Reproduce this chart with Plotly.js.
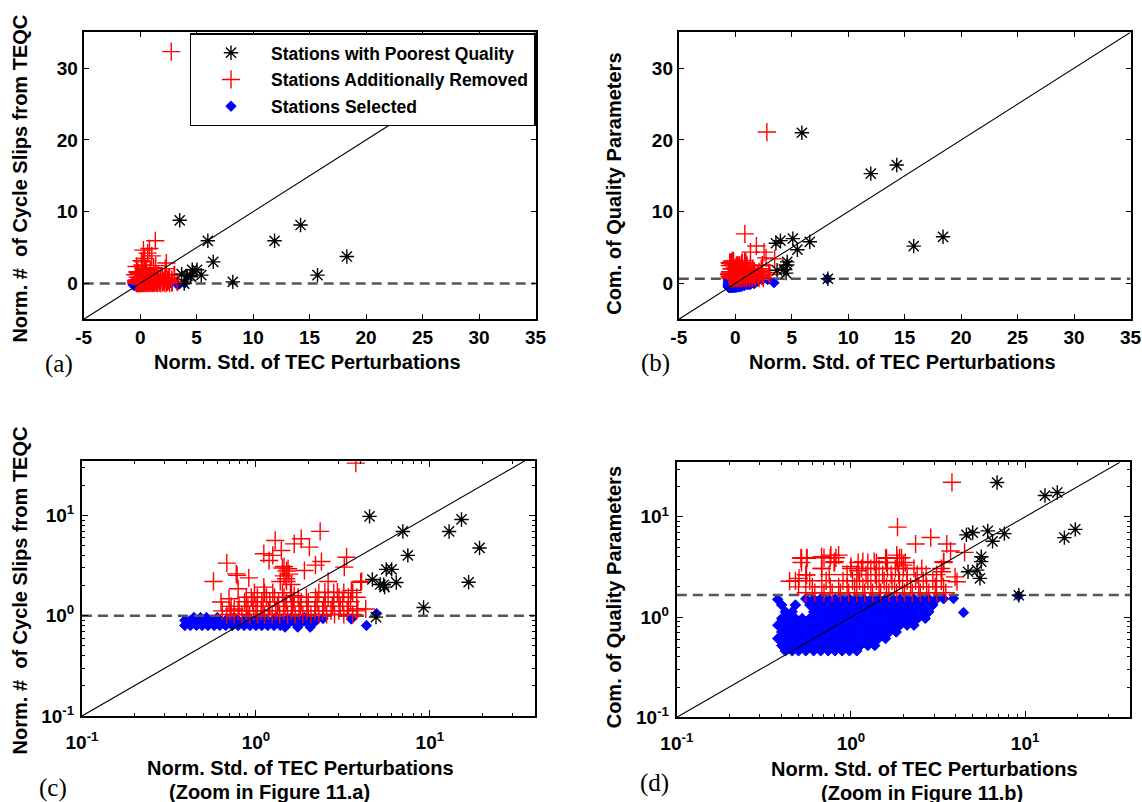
<!DOCTYPE html>
<html><head><meta charset="utf-8">
<script src="https://cdn.plot.ly/plotly-3.0.1.min.js"></script>
<style>html,body{margin:0;padding:0;background:#fff;} #chart{width:1142px;height:802px;}</style>
</head><body><div id="chart"></div>
<script>
// ================= DATA =================
// Values as read on the log-scale zoom panels (c),(d).
// Panels (a),(b) show the same stations with the +1 offset removed (value - SHIFT).
const SHIFT = 1;

const legendNames = ['Stations with Poorest Quality', 'Stations Additionally Removed', 'Stations Selected'];
const xTitleText = 'Norm. Std. of TEC Perturbations';
const yTitleCS = 'Norm. #\u00a0\u00a0of Cycle Slips from TEQC';
const yTitleCQ = 'Com. of Quality Parameters';
const zoomNoteA = '(Zoom in Figure 11.a)';
const zoomNoteB = '(Zoom in Figure 11.b)';
const panelLabels = ['(a)', '(b)', '(c)', '(d)'];

const linTickVals = [-5, 0, 5, 10, 15, 20, 25, 30, 35];
const linTickText = ['<b>-5</b>', '<b>0</b>', '<b>5</b>', '<b>10</b>', '<b>15</b>', '<b>20</b>', '<b>25</b>', '<b>30</b>', '<b>35</b>'];
const linYTickVals = [0, 10, 20, 30];
const linYTickText = ['<b>0</b>', '<b>10</b>', '<b>20</b>', '<b>30</b>'];
const logTickVals = [0.1, 1, 10];
const logTickText = ['<b>10<sup>-1</sup></b>', '<b>10<sup>0</sup></b>', '<b>10<sup>1</sup></b>'];
const logMinorTicks = [0.2, 0.3, 0.4, 0.5, 0.6, 0.7, 0.8, 0.9, 2, 3, 4, 5, 6, 7, 8, 9, 20, 30, 40];

const identityLin = [-5, 35];
const identityLog = [0.1, 35];
const spanLin = [-5, 35];
const spanLog = [0.1, 40];
const csThreshold = 1.0;    // dashed line, panels (a)/(c)
const cqThreshold = 1.66;   // dashed line, panels (b)/(d)

// ---- Cycle slips (panels a, c) ----
const csPoorX = [4.5, 6.99, 7.47, 9.2, 12.9, 15.2, 16.7, 19.3, 4.67, 5.43, 5.49, 5.61, 6.03, 6.41, 4.9, 5.18];
const csPoorY = [9.8, 6.94, 4.0, 1.21, 6.94, 9.14, 2.16, 4.75, 2.3, 2.04, 1.93, 2.9, 2.9, 2.15, 0.97, 2.05];

const csRemovedScatterX = [3.75, 2.34, 1.29, 1.82, 1.66, 2.03, 1.40, 1.11, 1.19, 0.68, 3.32, 2.38, 1.90, 1.53, 0.77, 0.57, 0.91, 1.49, 0.79, 1.11, 3.22, 4.05, 0.70, 0.94, 1.66, 2.49, 2.94, 3.54, 3.85, 0.75, 0.63, 4.28, 4.0, 0.78, 1.45, 1.55, 1.38, 1.6, 2.2, 2.6, 1.25, 1.5, 1.45, 1.42, 1.5];
const csRemovedScatterY = [33.3, 6.95, 5.64, 5.87, 5.22, 4.84, 4.48, 4.16, 3.56, 3.35, 3.84, 3.48, 2.83, 2.94, 2.62, 2.20, 2.39, 2.34, 1.86, 1.93, 3.06, 2.21, 1.48, 1.53, 1.59, 1.72, 1.72, 1.79, 1.17, 1.17, 1.37, 1.17, 2.16, 2.53, 3.1, 2.6, 2.2, 2.05, 3.2, 2.2, 4.0, 2.8, 2.5, 3.0, 2.2];
const csRemovedRows = [
  [1.03, [0.68, 0.75, 0.83, 0.92, 1.02, 1.12, 1.24, 1.37, 1.52, 1.68, 1.86, 2.07, 2.3, 2.55, 2.83, 3.2, 3.6]],
  [1.12, [0.64, 0.71, 0.79, 0.88, 0.97, 1.07, 1.18, 1.3, 1.44, 1.6, 1.77, 1.96, 2.18, 2.42, 2.7, 3.0, 3.35, 3.8]],
  [1.24, [0.72, 0.8, 0.9, 1.0, 1.1, 1.2, 1.33, 1.47, 1.62, 1.8, 2.0, 2.2, 2.45, 2.75, 3.05, 3.4]],
  [1.38, [0.86, 0.96, 1.08, 1.2, 1.35, 1.5, 1.65, 1.82, 2.0, 2.25, 2.5, 2.8, 3.15, 3.5]],
  [1.53, [0.88, 1.02, 1.15, 1.28, 1.45, 1.6, 1.75, 1.95, 2.2, 2.6, 3.0, 3.4, 3.8]],
  [1.70, [0.98, 1.12, 1.25, 1.42, 1.58, 2.3, 2.8, 3.2, 3.6]]
];

const csSelectedScatterX = [2.43, 3.54, 4.32, 4.94];
const csSelectedScatterY = [0.94, 0.93, 0.80, 1.05];
const csSelectedRows = [
  [0.96, [0.44, 0.48, 0.52, 0.6, 0.75, 0.9, 1.1, 1.3, 1.6, 1.9]],
  [0.90, [0.39, 0.42, 0.455, 0.49, 0.53, 0.575, 0.62, 0.67, 0.73, 0.79, 0.855, 0.925, 1.0, 1.08, 1.17, 1.27, 1.38, 1.49, 1.61, 1.75, 1.9, 2.05, 2.22]],
  [0.85, [0.405, 0.44, 0.47, 0.51, 0.555, 0.6, 0.645, 0.7, 0.76, 0.82, 0.89, 0.96, 1.04, 1.125, 1.22, 1.32, 1.43, 1.55, 1.68, 1.82, 1.97, 2.14]],
  [0.80, [0.39, 0.42, 0.455, 0.49, 0.53, 0.575, 0.62, 0.67, 0.73, 0.79, 0.855, 0.925, 1.0, 1.08, 1.17, 1.27, 1.38]],
  [0.77, [1.47, 1.74, 2.05]]
];

// ---- Combined quality parameters (panels b, d) ----
const cqPoorX = [6.9, 13.0, 15.3, 16.8, 19.4, 9.2, 4.6, 5.0, 6.1, 6.5, 7.6, 4.7, 5.3, 5.6, 5.6, 5.5];
const cqPoorY = [22.0, 16.3, 17.5, 6.2, 7.5, 1.65, 6.6, 6.97, 7.25, 5.7, 6.8, 2.83, 2.94, 4.0, 3.57, 2.43];

const cqRemovedScatterX = [3.80, 1.85, 2.87, 2.35, 3.55, 3.73, 4.49, 0.516, 0.556, 0.678, 0.767, 0.849, 0.807, 0.444, 0.503, 0.556, 0.678, 1.17, 1.36, 1.58, 1.83, 3.41, 3.33, 3.96, 4.06, 1.95, 2.0, 1.0, 1.1];
const cqRemovedScatterY = [22.1, 7.9, 6.21, 5.36, 5.36, 4.56, 4.42, 3.85, 3.85, 4.0, 4.15, 4.15, 3.57, 2.28, 2.43, 2.62, 3.05, 3.57, 3.57, 3.85, 4.15, 3.57, 2.83, 2.52, 2.25, 3.9, 3.3, 3.2, 2.9];
const cqRemovedRows = [
  [1.75, [0.55, 0.62, 0.7, 0.78, 0.87, 0.97, 1.08, 1.2, 1.33, 1.48, 1.65, 1.83, 2.03, 2.25, 2.5, 2.8, 3.1, 3.5]],
  [2.0,  [0.5, 0.6, 0.68, 0.76, 0.85, 0.95, 1.05, 1.17, 1.3, 1.45, 1.6, 1.78, 1.98, 2.2, 2.45, 2.72, 3.05, 3.4]],
  [2.3,  [0.48, 0.58, 0.72, 0.9, 1.02, 1.12, 1.25, 1.4, 1.55, 1.72, 1.9, 2.1, 2.35, 2.6, 2.95, 3.3]],
  [2.65, [0.55, 0.75, 0.95, 1.08, 1.22, 1.38, 1.52, 1.7, 1.88, 2.1, 2.4, 2.7, 3.1]],
  [3.05, [0.68, 1.0, 1.15, 1.3, 1.45, 1.62, 1.8, 2.0, 2.3, 2.55, 3.3]],
  [3.5,  [0.52, 0.8, 1.1, 1.25, 1.4, 1.6, 1.85, 2.05, 3.4]],
  [3.9,  [0.52, 0.56, 0.7, 0.76, 0.82, 1.6, 1.83, 1.9]]
];

const cqSelectedScatterX = [3.88, 4.43, 9.15, 0.38];
const cqSelectedScatterY = [1.53, 1.11, 1.63, 1.50];
const cqSelectedRows = [
  [0.46, [0.42, 0.46, 0.5, 0.55, 0.61, 0.67, 0.74, 0.81, 0.89, 0.98, 1.08]],
  [0.52, [0.4, 0.44, 0.48, 0.525, 0.58, 0.64, 0.705, 0.775, 0.85, 0.935, 1.03, 1.13, 1.25, 1.37]],
  [0.61, [0.38, 0.42, 0.46, 0.5, 0.55, 0.61, 0.67, 0.74, 0.81, 0.89, 0.98, 1.08, 1.19, 1.31, 1.44, 1.58]],
  [0.71, [0.4, 0.44, 0.48, 0.525, 0.58, 0.64, 0.705, 0.775, 0.85, 0.935, 1.03, 1.13, 1.25, 1.37, 1.51, 1.66, 1.82]],
  [0.83, [0.38, 0.42, 0.46, 0.5, 0.55, 0.61, 0.67, 0.74, 0.81, 0.89, 0.98, 1.08, 1.19, 1.31, 1.44, 1.58, 1.74, 1.91, 2.1, 2.3]],
  [0.97, [0.4, 0.44, 0.48, 0.525, 0.58, 0.64, 0.705, 0.775, 0.85, 0.935, 1.03, 1.13, 1.25, 1.37, 1.51, 1.66, 1.82, 2.0, 2.2, 2.42, 2.67]],
  [1.13, [0.42, 0.46, 0.61, 0.67, 0.74, 0.81, 0.89, 0.98, 1.08, 1.19, 1.31, 1.44, 1.58, 1.74, 1.91, 2.1, 2.3, 2.55, 2.8]],
  [1.32, [0.4, 0.48, 0.58, 0.64, 0.705, 0.775, 0.85, 0.935, 1.03, 1.13, 1.25, 1.37, 1.51, 1.66, 1.82, 2.0, 2.2, 2.42, 2.67, 2.95]],
  [1.52, [0.55, 0.61, 0.67, 0.74, 0.81, 0.89, 0.98, 1.08, 1.19, 1.31, 1.44, 1.58, 1.74, 1.91, 2.1, 2.3, 2.55, 2.8, 3.1, 3.4]]
];

// ================= BUILD =================
function gather(sx, sy, rows) {
  const x = sx.slice(), y = sy.slice();
  rows.forEach(function (r) { r[1].forEach(function (v) { x.push(v); y.push(r[0]); }); });
  return { x: x, y: y };
}
const csRemoved = gather(csRemovedScatterX, csRemovedScatterY, csRemovedRows);
const csSelected = gather(csSelectedScatterX, csSelectedScatterY, csSelectedRows);
const cqRemoved = gather(cqRemovedScatterX, cqRemovedScatterY, cqRemovedRows);
const cqSelected = gather(cqSelectedScatterX, cqSelectedScatterY, cqSelectedRows);
const csPoor = { x: csPoorX, y: csPoorY };
const cqPoor = { x: cqPoorX, y: cqPoorY };

const toLin = function (a) { return a.map(function (v) { return v - SHIFT; }); };

const BLUE = '#0000ff', RED = '#ff0000', BLACK = '#000000';
const boldFont = 'Liberation Sans, Arial, Helvetica, sans-serif';

function panelTraces(ax, lin, poor, removed, selected, thr, showLeg) {
  const f = lin ? toLin : function (a) { return a; };
  const xa = 'x' + ax, ya = 'y' + ax;
  const span = lin ? spanLin : spanLog;
  const ident = lin ? identityLin : identityLog;
  const th = lin ? thr - SHIFT : thr;
  return [
    { type: 'scatter', mode: 'markers', x: f(selected.x), y: f(selected.y), xaxis: xa, yaxis: ya,
      name: legendNames[2], legendgroup: 'g3', legendrank: 3, showlegend: showLeg,
      marker: { symbol: 'diamond', size: 8, color: BLUE, line: { color: BLUE, width: 1 } } },
    { type: 'scatter', mode: 'lines', x: span, y: [th, th], xaxis: xa, yaxis: ya, showlegend: false,
      line: { color: '#555555', width: 2.6, dash: '10px,6px' }, hoverinfo: 'skip' },
    { type: 'scatter', mode: 'markers', x: f(removed.x), y: f(removed.y), xaxis: xa, yaxis: ya,
      name: legendNames[1], legendgroup: 'g2', legendrank: 2, showlegend: showLeg,
      marker: { symbol: 'cross-thin', size: 13, color: RED, line: { color: RED, width: 1.4 } } },
    { type: 'scatter', mode: 'markers', x: f(poor.x), y: f(poor.y), xaxis: xa, yaxis: ya,
      name: legendNames[0], legendgroup: 'g1', legendrank: 1, showlegend: showLeg,
      marker: { symbol: 'asterisk-open', size: 12, color: BLACK, line: { color: BLACK, width: 1.4 } } },
    { type: 'scatter', mode: 'lines', x: ident, y: ident, xaxis: xa, yaxis: ya, showlegend: false,
      line: { color: BLACK, width: 1.1 }, hoverinfo: 'skip' }
  ];
}

const data = [].concat(
  panelTraces('', true, csPoor, csRemoved, csSelected, csThreshold, true),
  panelTraces('2', true, cqPoor, cqRemoved, cqSelected, cqThreshold, false),
  panelTraces('3', false, csPoor, csRemoved, csSelected, csThreshold, false),
  panelTraces('4', false, cqPoor, cqRemoved, cqSelected, cqThreshold, false)
);

const tickFont = { family: boldFont, size: 19, color: BLACK };
function linAxis(dom, anchor, tv, tt) {
  return { domain: dom, anchor: anchor, range: [-5, 35], tickmode: 'array', tickvals: tv, ticktext: tt,
    ticks: 'inside', ticklen: 5, tickwidth: 1, tickcolor: BLACK, mirror: 'ticks', showline: true,
    linecolor: BLACK, linewidth: 2, showgrid: false, zeroline: false, tickfont: tickFont, fixedrange: true };
}
function logAxis(dom, anchor, rng, standoff) {
  return { type: 'log', domain: dom, anchor: anchor, range: rng, tickmode: 'array',
    tickvals: logTickVals, ticktext: logTickText, ticklabelstandoff: standoff,
    ticks: 'inside', ticklen: 6, tickwidth: 1, tickcolor: BLACK, mirror: 'ticks', showline: true,
    linecolor: BLACK, linewidth: 2, showgrid: false, zeroline: false, tickfont: tickFont, fixedrange: true,
    minor: { tickmode: 'array', tickvals: logMinorTicks, ticks: 'inside', ticklen: 3, tickwidth: 1, tickcolor: BLACK, showgrid: false } };
}

const W = 1142, H = 802;
const px = function (v) { return v / W; };
const py = function (v) { return 1 - v / H; };
const titleFont = { family: boldFont, size: 20, weight: 700, color: BLACK };
const labelFont = { family: 'Liberation Serif, Times New Roman, serif', size: 25, color: BLACK };
function ann(text, x, y, font, angle) {
  return { text: text, xref: 'paper', yref: 'paper', x: px(x), y: py(y), xanchor: 'center', yanchor: 'middle',
    showarrow: false, font: font, textangle: angle || 0 };
}

const layout = {
  width: W, height: H, margin: { l: 0, r: 0, t: 0, b: 0 },
  paper_bgcolor: '#ffffff', plot_bgcolor: '#ffffff', showlegend: true,
  xaxis: linAxis([px(83.7), px(535.5)], 'y', linTickVals, linTickText),
  yaxis: linAxis([py(319.3), py(32.3)], 'x', linYTickVals, linYTickText),
  xaxis2: linAxis([px(678.8), px(1130.5)], 'y2', linTickVals, linTickText),
  yaxis2: linAxis([py(319.3), py(32.3)], 'x2', linYTickVals, linYTickText),
  xaxis3: logAxis([px(82), px(534.6)], 'y3', [-1, Math.log10(40)], 8),
  yaxis3: logAxis([py(716), py(461)], 'x3', [-1, Math.log10(35)], 2),
  xaxis4: logAxis([px(676.8), px(1130)], 'y4', [-1, Math.log10(40)], 8),
  yaxis4: logAxis([py(717.3), py(462.3)], 'x4', [-1, Math.log10(35)], 2),
  legend: { x: px(535.5), xanchor: 'right', y: py(33.3), yanchor: 'top', bgcolor: '#ffffff',
    bordercolor: BLACK, borderwidth: 1.5, font: { family: boldFont, size: 17.5, weight: 700, color: BLACK },
    itemwidth: 70, traceorder: 'grouped', tracegroupgap: 1, itemclick: false, itemdoubleclick: false },
  annotations: [
    ann(xTitleText, 307, 361.7, titleFont),
    ann(yTitleCS, 19.6, 179, titleFont, -90),
    ann(xTitleText, 902, 362, titleFont),
    ann(yTitleCQ, 613.8, 184, titleFont, -90),
    ann(xTitleText, 300, 767.7, titleFont),
    ann(zoomNoteA, 269.6, 791.7, titleFont),
    ann(yTitleCS, 20.4, 590, titleFont, -90),
    ann(xTitleText, 924.7, 769.3, titleFont),
    ann(zoomNoteB, 922, 792.5, titleFont),
    ann(yTitleCQ, 613.8, 597.5, titleFont, -90),
    ann(panelLabels[0], 59.4, 364, labelFont),
    ann(panelLabels[1], 655.6, 363, labelFont),
    ann(panelLabels[2], 52.7, 788, labelFont),
    ann(panelLabels[3], 654.7, 782.7, labelFont)
  ]
};

Plotly.newPlot('chart', data, layout, { staticPlot: true, displayModeBar: false });
</script>
</body></html>
